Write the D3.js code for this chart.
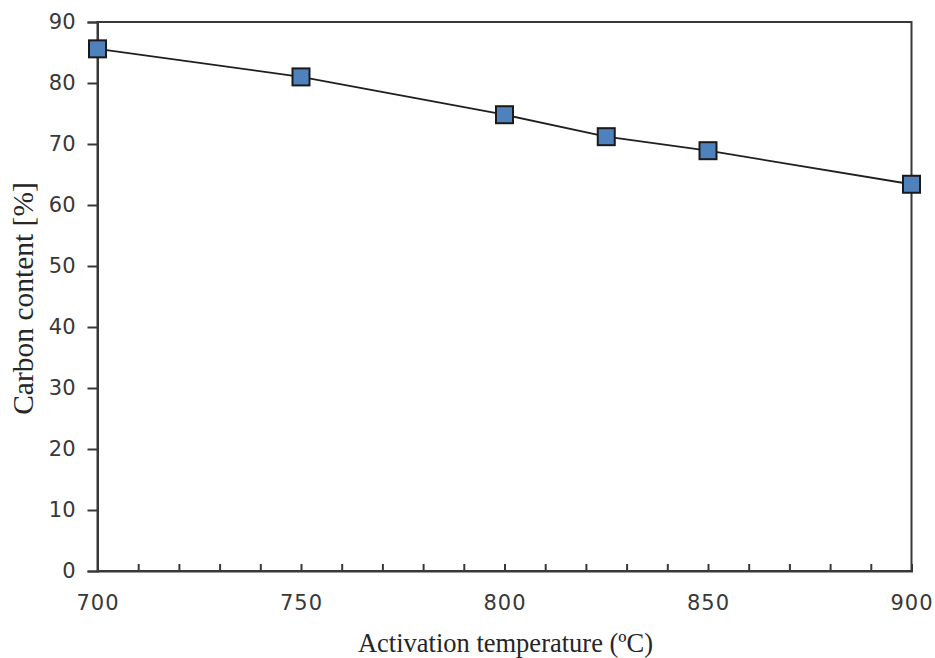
<!DOCTYPE html>
<html>
<head>
<meta charset="utf-8">
<script src="https://cdn.jsdelivr.net/npm/d3@7"></script>
<style>
  html, body { margin: 0; padding: 0; background: #fff; }
  svg { display: block; }
</style>
</head>
<body>
<svg id="chart" width="935" height="658"></svg>
<script>
const temperatures = [700, 750, 800, 825, 850, 900];
const carbonContent = [85.6, 81.0, 74.8, 71.2, 68.9, 63.4];
const xTickLabels = [700, 750, 800, 850, 900];
const yTickLabels = [0, 10, 20, 30, 40, 50, 60, 70, 80, 90];
const xTitle = "Activation temperature (ºC)";
const yTitle = "Carbon content [%]";

const svg = d3.select("#chart");
const margin = { left: 97.5, right: 935 - 911.5, top: 22, bottom: 658 - 571 };
const W = 935, H = 658;

const x = d3.scaleLinear().domain([700, 900]).range([margin.left, W - margin.right]);
const y = d3.scaleLinear().domain([0, 90]).range([H - margin.bottom, margin.top]);

const axisColor = "#383838";

// plot frame
svg.append("rect")
  .attr("x", x(700)).attr("y", y(90))
  .attr("width", x(900) - x(700)).attr("height", y(0) - y(90))
  .attr("fill", "none").attr("stroke", axisColor).attr("stroke-width", 2);

// Y axis
const yAxis = d3.axisLeft(y).tickValues(yTickLabels).tickSize(10).tickPadding(12);
const gy = svg.append("g").attr("transform", `translate(${x(700)},0)`).call(yAxis);
gy.select(".domain").attr("stroke", axisColor).attr("stroke-width", 2);
gy.selectAll(".tick line").attr("stroke", axisColor).attr("stroke-width", 2);
gy.selectAll(".tick text")
  .attr("font-family", "DejaVu Sans, Verdana, sans-serif")
  .attr("font-size", 21).attr("fill", "#383838");

// X axis: minor ticks inside every 10, labels every 50
const minorTicks = d3.range(700, 901, 10);
const xAxisTicks = d3.axisTop(x).tickValues(minorTicks).tickSize(7).tickFormat("");
const gxt = svg.append("g").attr("transform", `translate(0,${y(0)})`).call(xAxisTicks);
gxt.select(".domain").attr("stroke", axisColor).attr("stroke-width", 2);
gxt.selectAll(".tick line").attr("stroke", axisColor).attr("stroke-width", 2);

const xAxisLabels = d3.axisBottom(x).tickValues(xTickLabels).tickSize(0).tickPadding(24);
const gxl = svg.append("g").attr("transform", `translate(0,${y(0)})`).call(xAxisLabels);
gxl.select(".domain").remove();
gxl.selectAll(".tick text")
  .attr("font-family", "DejaVu Sans, Verdana, sans-serif")
  .attr("font-size", 21).attr("fill", "#383838")
  .attr("letter-spacing", 1);

// Line
const line = d3.line().x((d, i) => x(temperatures[i])).y(d => y(d));
svg.append("path")
  .datum(carbonContent)
  .attr("d", line)
  .attr("fill", "none")
  .attr("stroke", "#1f1f1f")
  .attr("stroke-width", 1.8);

// Markers
const ms = 17;
svg.append("g").selectAll("rect")
  .data(carbonContent)
  .join("rect")
  .attr("x", (d, i) => x(temperatures[i]) - ms / 2)
  .attr("y", d => y(d) - ms / 2)
  .attr("width", ms).attr("height", ms)
  .attr("fill", "#4f81bd")
  .attr("stroke", "#1a1a1a")
  .attr("stroke-width", 2);

// Titles
svg.append("text")
  .attr("x", (x(700) + x(900)) / 2 + 1)
  .attr("y", 652)
  .attr("text-anchor", "middle")
  .attr("font-family", "Liberation Serif, Times New Roman, serif")
  .attr("font-size", 26.5)
  .attr("fill", "#262626")
  .text(xTitle);

svg.append("text")
  .attr("transform", `translate(33,${(y(0) + y(90)) / 2 + 2}) rotate(-90)`)
  .attr("text-anchor", "middle")
  .attr("font-family", "Liberation Serif, Times New Roman, serif")
  .attr("font-size", 29.5)
  .attr("fill", "#262626")
  .text(yTitle);
</script>
</body>
</html>
